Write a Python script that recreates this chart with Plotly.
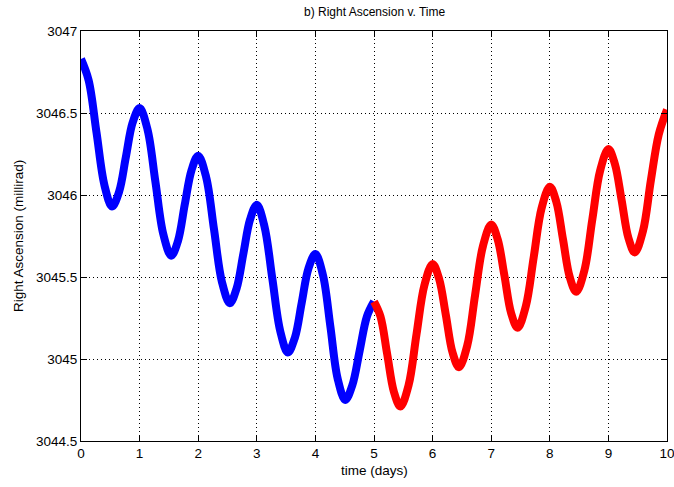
import plotly.graph_objects as go

# time (days) and right ascension (millirad)
t_blue = [0, 0.13, 0.265, 0.40, 0.53, 0.65, 0.765, 0.88,
          1, 1.135, 1.27, 1.405, 1.54, 1.655, 1.77, 1.885,
          2, 2.135, 2.27, 2.405, 2.54, 2.655, 2.77, 2.885,
          3, 3.13, 3.265, 3.40, 3.53, 3.65, 3.765, 3.88,
          4, 4.13, 4.255, 4.38, 4.51, 4.63, 4.755, 4.88, 5]
ra_blue = [3046.83, 3046.70, 3046.38, 3046.06, 3045.93, 3046.02, 3046.23, 3046.44,
           3046.53, 3046.40, 3046.08, 3045.76, 3045.63, 3045.72, 3045.94, 3046.15,
           3046.24, 3046.11, 3045.79, 3045.47, 3045.34, 3045.43, 3045.64, 3045.85,
           3045.94, 3045.81, 3045.49, 3045.17, 3045.04, 3045.13, 3045.34, 3045.55,
           3045.64, 3045.51, 3045.20, 3044.88, 3044.75, 3044.84, 3045.05, 3045.26,
           3045.35]

t_red = [5, 5.11, 5.225, 5.34, 5.45, 5.59, 5.725, 5.86,
         6, 6.11, 6.225, 6.34, 6.45, 6.59, 6.725, 6.86,
         7, 7.11, 7.225, 7.34, 7.45, 7.59, 7.725, 7.86,
         8, 8.11, 8.225, 8.34, 8.45, 8.59, 8.725, 8.86,
         9, 9.11, 9.225, 9.34, 9.45, 9.59, 9.725, 9.86, 10]
ra_red = [3045.35, 3045.26, 3045.03, 3044.80, 3044.71, 3044.84, 3045.15, 3045.45,
          3045.58, 3045.49, 3045.27, 3045.04, 3044.95, 3045.08, 3045.39, 3045.69,
          3045.82, 3045.73, 3045.51, 3045.28, 3045.19, 3045.32, 3045.62, 3045.92,
          3046.05, 3045.96, 3045.73, 3045.50, 3045.41, 3045.54, 3045.85, 3046.15,
          3046.28, 3046.19, 3045.97, 3045.74, 3045.65, 3045.78, 3046.09, 3046.37,
          3046.52]

x_ticks = [0, 1, 2, 3, 4, 5, 6, 7, 8, 9, 10]
y_ticks = [3044.5, 3045, 3045.5, 3046, 3046.5, 3047]
y_tick_text = ["3044.5", "3045", "3045.5", "3046", "3046.5", "3047"]

FONT = "Liberation Sans, Arial, sans-serif"

fig = go.Figure()
fig.add_trace(go.Scatter(x=t_blue, y=ra_blue, mode="lines",
                         line=dict(color="#0000FF", width=8, shape="spline"),
                         showlegend=False))
fig.add_trace(go.Scatter(x=t_red, y=ra_red, mode="lines",
                         line=dict(color="#FF0000", width=8, shape="spline"),
                         showlegend=False))

axis_common = dict(
    showline=True, linecolor="black", linewidth=1, mirror="ticks",
    ticks="inside", ticklen=6, tickcolor="black", tickwidth=1,
    showgrid=True, gridcolor="black", gridwidth=1, griddash="1px,3px",
    zeroline=False, tickfont=dict(family=FONT, size=13.5, color="black"),
    ticklabeloverflow="allow", automargin=False,
)

fig.update_xaxes(range=[0, 10], tickvals=x_ticks, **axis_common)
fig.update_yaxes(range=[3044.5, 3047], tickvals=y_ticks, ticktext=y_tick_text,
                 **axis_common)

fig.update_layout(
    width=674, height=487,
    margin=dict(l=81, r=7, t=31, b=46, autoexpand=False),
    paper_bgcolor="white", plot_bgcolor="white",
    font=dict(family=FONT, color="black"),
    annotations=[
        dict(text="b) Right Ascension v. Time", xref="paper", yref="paper",
             x=0.5, y=1 + 19 / 410, xanchor="center", yanchor="middle",
             showarrow=False, font=dict(size=12, family=FONT, color="black")),
        dict(text="time (days)", xref="paper", yref="paper",
             x=0.5, y=-29 / 410, xanchor="center", yanchor="middle",
             showarrow=False, font=dict(size=13.5, family=FONT, color="black")),
        dict(text="Right Ascension (millirad)", xref="paper", yref="paper",
             x=(18 - 81) / 586, y=0.5, xanchor="center", yanchor="middle",
             textangle=-90, showarrow=False,
             font=dict(size=13.5, family=FONT, color="black")),
    ],
)

fig.write_html("out.html")
